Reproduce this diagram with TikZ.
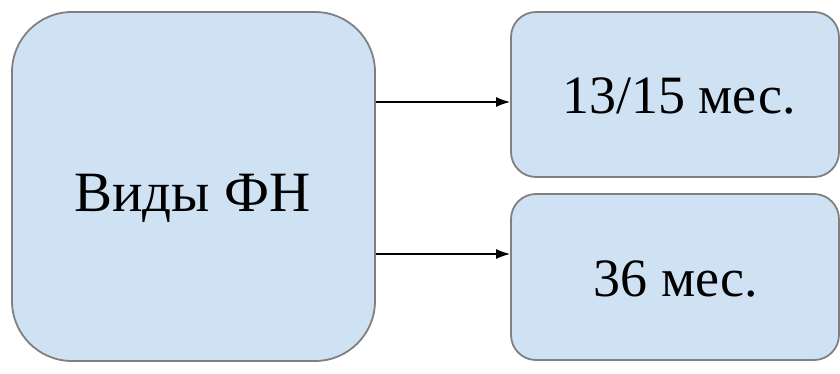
\documentclass[tikz,border=0pt]{standalone}
\usepackage{fontspec}
\setmainfont{Liberation Serif}
\usepackage{xcolor}
\usepackage{tikz}
\usetikzlibrary{arrows.meta, positioning, calc}
\definecolor{boxfill}{HTML}{CFE2F3}
\definecolor{boxline}{HTML}{808080}
\tikzstyle{kindbox} = [draw=boxline, fill=boxfill, line width=1.8pt, inner sep=0pt]
\tikzstyle{arrow} = [-{Latex[length=14pt, width=10pt]}, line width=1.4pt]

\begin{document}
\begin{tikzpicture}[x=1pt, y=-1pt, font=\fontsize{54}{60}\selectfont]

    % Canvas
    \useasboundingbox (0, 0) rectangle (840, 373);

    % Boxes
    \node (vids) [kindbox, rounded corners=60pt, minimum width=363pt, minimum height=349pt] at (193.5, 186.5) {};
    \node (short) [kindbox, rounded corners=25pt, minimum width=328pt, minimum height=165pt] at (675, 94.5) {};
    \node (long) [kindbox, rounded corners=25pt, minimum width=328pt, minimum height=166pt] at (675, 277) {};

    % Labels
    \node (vidsText) [font=\fontsize{57}{64}\selectfont] at ($(vids.center)+(-1, 12)$) {Виды ФН};
    \node (shortText) at ($(short.center)+(4, 1)$) {13/15 мес.};
    \node (longText) at ($(long.center)+(1, 2)$) {36 мес.};

    % Connectors
    \coordinate (rowA) at (0, 102);
    \coordinate (rowB) at (0, 254);
    \draw [arrow] (vids.east |- rowA) -- (short.west |- rowA);
    \draw [arrow] (vids.east |- rowB) -- (long.west |- rowB);

\end{tikzpicture}
\end{document}
